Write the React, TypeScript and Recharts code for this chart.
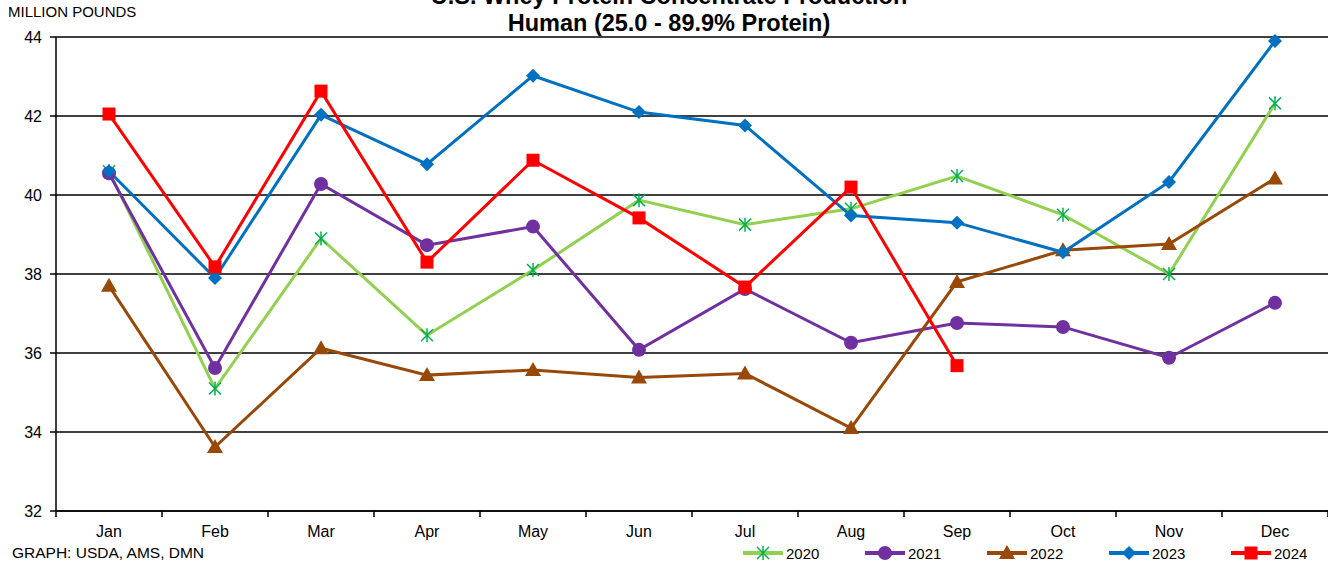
// U.S. whey protein concentrate production, human grade, 2020-2024
import { LineChart, Line, XAxis, YAxis, CartesianGrid } from 'recharts'

const months = ['Jan', 'Feb', 'Mar', 'Apr', 'May', 'Jun', 'Jul', 'Aug', 'Sep', 'Oct', 'Nov', 'Dec']
const yTicks = [32, 34, 36, 38, 40, 42, 44]
const xBounds = [0, 1, 2, 3, 4, 5, 6, 7, 8, 9, 10, 11, 12]

const y2020 = [40.6, 35.1, 38.9, 36.45, 38.1, 39.87, 39.25, 39.65, 40.48, 39.5, 38.0, 42.32]
const y2021 = [40.55, 35.62, 40.28, 38.73, 39.2, 36.08, 37.62, 36.26, 36.76, 36.66, 35.88, 37.27]
const y2022 = [37.7, 33.62, 36.12, 35.44, 35.57, 35.38, 35.48, 34.1, 37.8, 38.6, 38.76, 40.42]
const y2023 = [40.6, 37.9, 42.03, 40.78, 43.02, 42.1, 41.76, 39.48, 39.3, 38.55, 40.33, 43.9]
const y2024 = [42.05, 38.18, 42.63, 38.3, 40.88, 39.42, 37.67, 40.2, 35.68, null, null, null]

const data = months.map((m, i) => ({
  x: i + 0.5,
  month: m,
  y2020: y2020[i],
  y2021: y2021[i],
  y2022: y2022[i],
  y2023: y2023[i],
  y2024: y2024[i],
}))

const FONT = '"Liberation Sans", Arial, sans-serif'
const HALF_CAT = (1328 - 56) / 12 / 2

// markers
const Star = ({ cx, cy, color = '#00B050' }: any) => {
  if (cx == null || cy == null) return null
  const r = 6
  return (
    <g stroke={color} strokeWidth={1.5}>
      <line x1={cx - r} y1={cy - r} x2={cx + r} y2={cy + r} />
      <line x1={cx - r} y1={cy + r} x2={cx + r} y2={cy - r} />
      <line x1={cx} y1={cy - r - 1} x2={cx} y2={cy + r + 1} />
    </g>
  )
}
const Circle = ({ cx, cy, color = '#7030A0' }: any) =>
  cx == null || cy == null ? null : <circle cx={cx} cy={cy} r={7} fill={color} />
const Triangle = ({ cx, cy, color = '#984807' }: any) =>
  cx == null || cy == null ? null : (
    <polygon points={`${cx},${cy - 8} ${cx + 8},${cy + 6} ${cx - 8},${cy + 6}`} fill={color} />
  )
const Diamond = ({ cx, cy, color = '#0070C0' }: any) =>
  cx == null || cy == null ? null : (
    <polygon points={`${cx},${cy - 7} ${cx + 7},${cy} ${cx},${cy + 7} ${cx - 7},${cy}`} fill={color} />
  )
const Square = ({ cx, cy, color = '#FF0000' }: any) =>
  cx == null || cy == null ? null : <rect x={cx - 6.5} y={cy - 6.5} width={13} height={13} fill={color} />

const series = [
  { key: 'y2020', name: '2020', color: '#92D050', Dot: Star },
  { key: 'y2021', name: '2021', color: '#7030A0', Dot: Circle },
  { key: 'y2022', name: '2022', color: '#984807', Dot: Triangle },
  { key: 'y2023', name: '2023', color: '#0070C0', Dot: Diamond },
  { key: 'y2024', name: '2024', color: '#FF0000', Dot: Square },
]

const MonthTick = ({ x, y, payload }: any) => {
  const i = payload.value
  if (i >= 12) return null
  return (
    <text x={x + HALF_CAT} y={y} dy="0.71em" textAnchor="middle" fontSize={16} fill="#000" fontFamily={FONT}>
      {months[i]}
    </text>
  )
}

export default function App() {
  return (
    <div style={{ position: 'absolute', left: 0, top: 0, width: 1328, height: 565, fontFamily: FONT, background: '#fff', overflow: 'hidden' }}>
      <div style={{ position: 'absolute', left: 0, width: 1338, top: -17, textAlign: 'center', fontWeight: 'bold', fontSize: 23.5, lineHeight: '27px', color: '#000' }}>
        <div>U.S. Whey Protein Concentrate Production</div>
        <div>Human (25.0 - 89.9% Protein)</div>
      </div>
      <div style={{ position: 'absolute', left: 8, top: 3, fontSize: 15, color: '#000' }}>MILLION POUNDS</div>
      <div style={{ position: 'absolute', left: 0, top: 0 }}>
        <LineChart width={1328} height={565} data={data} margin={{ top: 37, right: 0, bottom: 0, left: 0 }}>
          <CartesianGrid vertical={false} stroke="#000" strokeWidth={1.5} />
          <XAxis
            dataKey="x"
            type="number"
            domain={[0, 12]}
            ticks={xBounds}
            height={54}
            tickSize={6}
            tickMargin={9}
            axisLine={{ stroke: '#000', strokeWidth: 1.5 }}
            tickLine={{ stroke: '#000', strokeWidth: 1.5 }}
            tick={<MonthTick />}
            interval={0}
          />
          <YAxis
            type="number"
            domain={[32, 44]}
            ticks={yTicks}
            width={56}
            tickSize={6}
            tickMargin={8}
            interval={0}
            axisLine={{ stroke: '#000', strokeWidth: 1.5 }}
            tickLine={{ stroke: '#000', strokeWidth: 1.5 }}
            tick={{ fill: '#000', fontSize: 16, fontFamily: FONT }}
          />
          {series.map((s) => (
            <Line
              key={s.key}
              dataKey={s.key}
              stroke={s.color}
              strokeWidth={3}
              type="linear"
              isAnimationActive={false}
              activeDot={false}
              dot={(p: any) => <s.Dot key={`${s.key}-${p.index}`} cx={p.cx} cy={p.cy} />}
            />
          ))}
        </LineChart>
      </div>
      <div style={{ position: 'absolute', left: 12, top: 544, fontSize: 15.5, color: '#000' }}>GRAPH: USDA, AMS, DMN</div>
      {series.map((s, i) => (
        <div key={s.key} style={{ position: 'absolute', left: 742 + i * 122, top: 544, height: 18, display: 'flex', alignItems: 'center', fontSize: 15, color: '#000' }}>
          <svg width={42} height={18} style={{ marginRight: 2 }}>
            <line x1={1} y1={9} x2={41} y2={9} stroke={s.color} strokeWidth={4} />
            <s.Dot cx={21} cy={9} />
          </svg>
          <span>{s.name}</span>
        </div>
      ))}
    </div>
  )
}
